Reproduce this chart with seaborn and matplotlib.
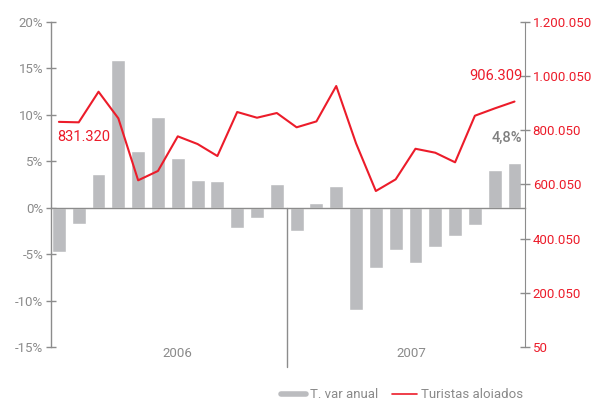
import matplotlib
matplotlib.use("Agg")
import matplotlib.pyplot as plt
import seaborn as sns
import pandas as pd
from matplotlib.lines import Line2D
from matplotlib.ticker import FuncFormatter

# monthly data, Jan 2006 - Dec 2007
months = list(range(24))
var_anual = [-4.8, -1.8, 3.65, 15.9, 6.1, 9.8, 5.4, 3.0, 2.9, -2.2, -1.15, 2.5,
             -2.5, 0.5, 2.35, -11.0, -6.5, -4.6, -6.0, -4.2, -3.0, -1.9, 4.1, 4.8]
turistas = [831320, 829600, 942600, 844300, 615500, 650000, 777900, 749500, 705200, 867700, 846600, 864000,
            811200, 833000, 963700, 752000, 576000, 619000, 732000, 717400, 682000, 854000, 881000, 906309]
years = ["2006", "2007"]
left_ticks = [-15, -10, -5, 0, 5, 10, 15, 20]
right_ticks = [50, 200050, 400050, 600050, 800050, 1000050, 1200050]

df = pd.DataFrame({"mes": months, "var": var_anual, "tur": turistas})

GRAY = "#bbbcbf"
RED = "#ec1c2a"
TXT = "#8a8a8a"
AX = "#8c8c8c"

sns.set_style("white")
plt.rcParams["font.family"] = ["Roboto", "DejaVu Sans"]

fig = plt.figure(figsize=(5.99, 4.01), dpi=100)
ax = fig.add_axes([51/599, 1-347/401, (525-51)/599, (347-22)/401])

sns.barplot(data=df, x="mes", y="var", color=GRAY, width=0.7, saturation=1, ax=ax)
ax.set_xlim(-0.4, 23.53)
ax.set_ylim(-15, 20)
ax.set_yticks(left_ticks)
ax.yaxis.set_major_formatter(FuncFormatter(lambda v, p: f"{int(v)}%"))
ax.set_xlabel("")
ax.set_ylabel("")
ax.set_xticks([i + 0.5 for i in range(23)])
ax.set_xticklabels([])
ax.spines["bottom"].set_position(("data", 0))
ax.spines["top"].set_visible(False)
ax.spines["right"].set_visible(False)
for s in ["left", "bottom"]:
    ax.spines[s].set_color(AX)
    ax.spines[s].set_linewidth(1)
ax.tick_params(axis="x", direction="inout", length=6, color=AX, width=1)
ax.tick_params(axis="y", direction="inout", length=7, color=AX, width=1,
               labelcolor=TXT, labelsize=9.5, pad=2)

# year divider and labels
ax.plot([11.5, 11.5], [0, -17.2], color=AX, lw=1, clip_on=False)
ax.text(5.97, -15.75, years[0], ha="center", va="center", color=TXT, fontsize=9.5)
ax.text(17.8, -15.75, years[1], ha="center", va="center", color=TXT, fontsize=9.5)

ax2 = ax.twinx()
ax2.set_position(ax.get_position())
sns.lineplot(data=df, x="mes", y="tur", color=RED, lw=1.5, ax=ax2)
ax2.set_ylim(50, 1200050)
ax2.set_xlim(-0.4, 23.53)
ax2.set_yticks(right_ticks)
ax2.yaxis.set_major_formatter(FuncFormatter(lambda v, p: f"{int(v):,}".replace(",", ".")))
ax2.set_ylabel("")
ax2.set_xlabel("")
for s in ["top", "left", "bottom"]:
    ax2.spines[s].set_visible(False)
ax2.spines["right"].set_color(AX)
ax2.tick_params(axis="y", direction="inout", length=7, color=AX, width=1,
                labelcolor=RED, labelsize=9.5, pad=2)

# annotations
ax2.text(-0.1, 775000, f"{turistas[0]:,}".replace(",", "."), color=RED, fontsize=10.5,
         ha="left", va="center")
ax2.text(23.4, 1000500, f"{turistas[-1]:,}".replace(",", "."), color=RED, fontsize=10.5,
         ha="right", va="center")
ax.text(23.4, 7.5, "4,8%", color="#7f7f7f", fontsize=10.5, fontweight="medium", ha="right", va="center")

handles = [Line2D([], [], color=GRAY, lw=4), Line2D([], [], color=RED, lw=1.2)]
fig.legend(handles, ["T. var anual", "Turistas aloiados"], loc="center",
           bbox_to_anchor=(402/599, 1-395/401), ncol=2, frameon=False, fontsize=9.5,
           handlelength=1.9, handletextpad=0.3, columnspacing=1.0, labelcolor=TXT)

fig.savefig("out.png", dpi=100)
